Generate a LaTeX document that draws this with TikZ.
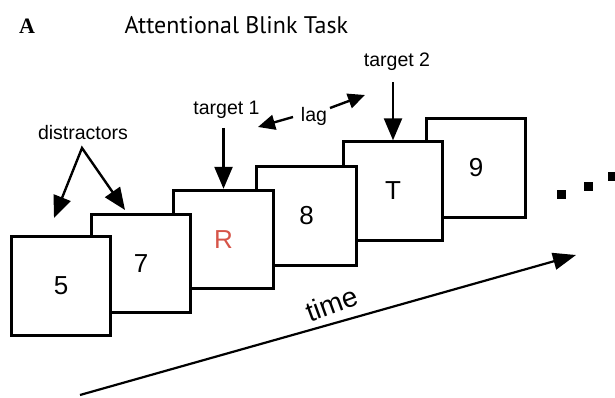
\documentclass[tikz,border=0pt]{standalone}
\usepackage{fontspec}
\setmainfont{Liberation Sans}
\newfontfamily\headfont{PT Sans}
\newfontfamily\panelfont{Liberation Serif}
\usetikzlibrary{arrows.meta}
\definecolor{targetred}{RGB}{214,84,72}

\begin{document}
\begin{tikzpicture}[x=1pt,y=1pt,
        card/.style={draw, line width=2.9pt, fill=white, minimum width=99.5pt,
            minimum height=98.5pt, inner sep=0pt, font=\fontsize{26}{26}\selectfont},
        lbl/.style={font=\fontsize{19.5}{19.5}\selectfont, inner sep=1pt},
        pointer/.style={line width=2.4pt, >={Triangle[length=22pt,width=18pt]}},
        lagtip/.style={line width=2.4pt, -{Triangle[length=17pt,width=15pt]}},
    ]
        \useasboundingbox (0,0) rectangle (615,397);

        \node (panel) at (27,371) {\panelfont\bfseries\fontsize{22}{22}\selectfont A};
        \node[anchor=west] (head) at (121,372) {\headfont\fontsize{24}{24}\selectfont Attentional Blink Task};

        % stream, last card first so the earlier ones lie on top
        \node[card] (c9) at (476,229) {9};
        \node[card] (cT) at (393,206) {T};
        \node[card] (c8) at (306.5,181) {8};
        \node[card, text=targetred] (cR) at (223.5,157.5) {R};
        \node[card] (c7) at (141,133.5) {7};
        \node[card] (c5) at (61,111) {5};

        \node[lbl] (dis) at (83,264) {distractors};
        \node[lbl] (t1) at (226.5,287) {target 1};
        \node[lbl] (lag) at (314,281) {lag};
        \node[lbl] (t2) at (397,335) {target 2};

        \coordinate (apex) at (82,249);
        \coordinate (d5) at (54,179);
        \coordinate (d7) at (125,187);
        \coordinate (lagLs) at (293,280);
        \coordinate (lagLe) at (258,270);
        \coordinate (lagRs) at (330,289);
        \coordinate (lagRe) at (365,302);
        \coordinate (tstart) at (80,2);
        \coordinate (tend) at (576,142);

        \draw[pointer, <->] (d5) -- (apex) -- (d7);
        \draw[pointer, ->, shorten <=8pt] (cR.north |- t1.south) -- (cR.north);
        \draw[pointer, ->, shorten <=10pt] (cT.north |- t2.south) -- (cT.north);
        \draw[lagtip] (lagLs) -- (lagLe);
        \draw[lagtip] (lagRs) -- (lagRe);

        \draw[line width=2.2pt, -{Triangle[length=23pt,width=17pt]}] (tstart) -- (tend);
        \node[rotate=20, font=\fontsize{28}{28}\selectfont] (tlbl) at (332,93) {time};

        \foreach \x/\y [count=\i] in {561/203, 588/211, 612/221}
            \node[fill=black, minimum size=9pt, inner sep=0pt] (dot\i) at (\x,\y) {};
\end{tikzpicture}
\end{document}
